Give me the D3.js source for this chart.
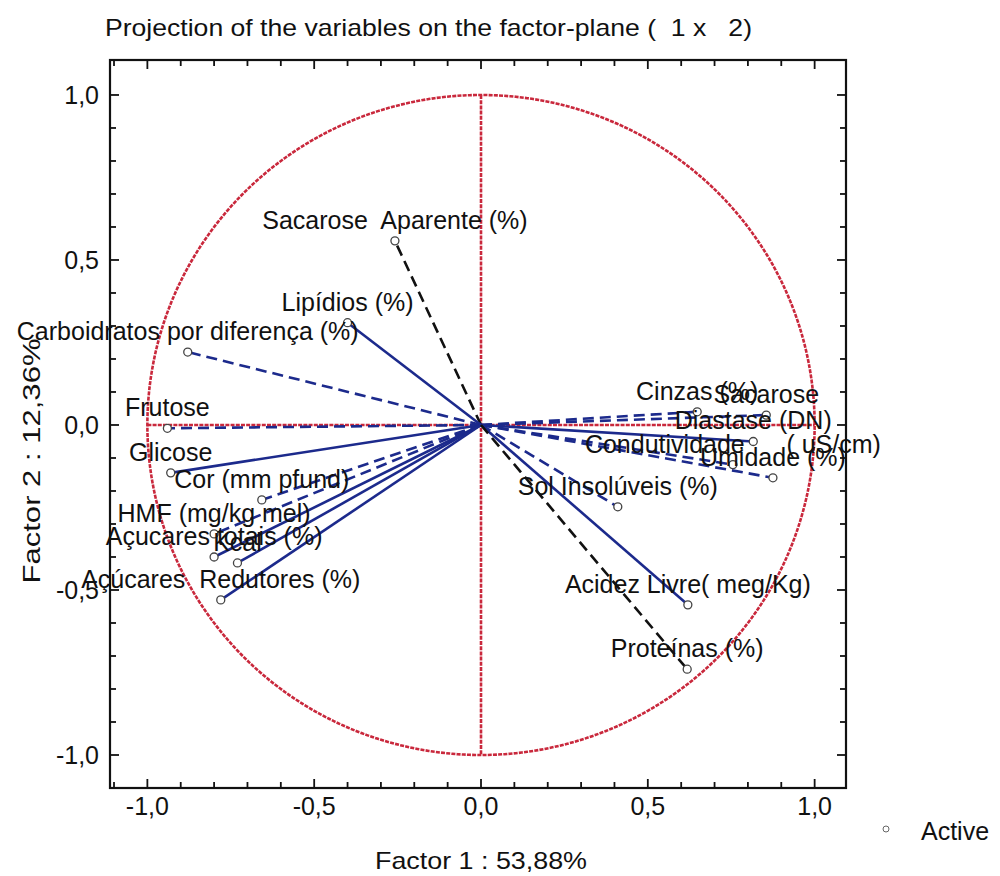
<!DOCTYPE html>
<html><head><meta charset="utf-8">
<script src="https://cdn.jsdelivr.net/npm/d3@7"></script>
<style>body{margin:0;background:#fff}svg{display:block}text{font-family:"Liberation Sans",Arial,sans-serif;white-space:pre}</style>
</head><body>
<script>
const variables = ["Sacarose  Aparente (%)","Lipídios (%)","Carboidratos por diferença (%)","Frutose","Glicose","Cor (mm pfund)","HMF (mg/kg mel)","Açucares totais (%)","Kcal","Açúcares  Redutores (%)","Cinzas (%)","Sacarose","Diastase (DN)","Condutividade      ( uS/cm)","Umidade (%)","Sol Insolúveis (%)","Acidez Livre( meg/Kg)","Proteínas (%)"];
const factor1 = [-0.258,-0.40,-0.879,-0.94,-0.93,-0.657,-0.80,-0.80,-0.73,-0.78,0.648,0.855,0.816,0.755,0.875,0.41,0.62,0.618];
const factor2 = [0.558,0.31,0.221,-0.01,-0.145,-0.227,-0.33,-0.40,-0.418,-0.53,0.04,0.03,-0.05,-0.12,-0.16,-0.248,-0.545,-0.74];
const lineStyle = ["dashBlack","solid","dashed","dashed","solid","dashed","dashed","solid","solid","solid","dashed","dashed","solid","dashed","dashed","dashed","solid","dashBlack"];
const xTickLabels = ["-1,0","-0,5","0,0","0,5","1,0"];
const yTickLabels = ["1,0","0,5","0,0","-0,5","-1,0"];
const majorTicks = [-1,-0.5,0,0.5,1];

const W=1000,H=876;
const svg=d3.select("body").append("svg").attr("width",W).attr("height",H);
const L=110,R=846,T=60,B=788;
const x=d3.scaleLinear().domain([-1.112,1.094]).range([L,R]);
const y=d3.scaleLinear().domain([1.106,-1.1]).range([T,B]);
const red="#c9283c", navy="#1c2a8c";

// title
svg.append("text").attr("x",105).attr("y",36).attr("font-size",24).attr("fill","#111")
  .attr("textLength",647).attr("lengthAdjust","spacingAndGlyphs")
  .text("Projection of the variables on the factor-plane (  1 x   2)");

// unit circle
const circ=d3.range(0,361,1).map(a=>[x(Math.cos(a*Math.PI/180)),y(Math.sin(a*Math.PI/180))]);
const redDash="4,1.2";
svg.append("path").attr("d",d3.line()(circ)).attr("fill","none").attr("stroke",red)
  .attr("stroke-width",2.6).attr("stroke-dasharray",redDash);
svg.append("line").attr("x1",x(0)).attr("x2",x(0)).attr("y1",y(1)).attr("y2",y(-1)).attr("stroke",red).attr("stroke-width",2.6).attr("stroke-dasharray",redDash);
svg.append("line").attr("x1",x(-1)).attr("x2",x(1)).attr("y1",y(0)).attr("y2",y(0)).attr("stroke",red).attr("stroke-width",2.6).attr("stroke-dasharray",redDash);

// vectors
const data=variables.map((n,i)=>({n,f1:factor1[i],f2:factor2[i],s:lineStyle[i]}));
svg.append("g").selectAll("line").data(data).join("line")
  .attr("x1",x(0)).attr("y1",y(0)).attr("x2",d=>x(d.f1)).attr("y2",d=>y(d.f2))
  .attr("stroke",d=>d.s==="dashBlack"?"#111":navy).attr("stroke-width",2.6)
  .attr("stroke-dasharray",d=>d.s==="solid"?null:"11,6");
svg.append("g").selectAll("circle").data(data).join("circle")
  .attr("cx",d=>x(d.f1)).attr("cy",d=>y(d.f2)).attr("r",4)
  .attr("fill","#fff").attr("stroke","#444").attr("stroke-width",1.3);
svg.append("g").selectAll("text").data(data).join("text")
  .attr("x",d=>x(d.f1)).attr("y",d=>y(d.f2)-12).attr("text-anchor","middle")
  .attr("font-size",25).attr("fill","#111").text(d=>d.n);

// frame
svg.append("rect").attr("x",L).attr("y",T).attr("width",R-L).attr("height",B-T)
  .attr("fill","none").attr("stroke","#111").attr("stroke-width",2.2);
const minor=d3.range(-11,11).map(v=>v/10).filter(v=>v>=-1.1&&v<=1.09);
const tk=svg.append("g").attr("stroke","#111").attr("stroke-width",1.8);
minor.forEach(v=>{
  const big=majorTicks.some(m=>Math.abs(m-v)<1e-6);
  const len=big?9:6;
  tk.append("line").attr("x1",x(v)).attr("x2",x(v)).attr("y1",B).attr("y2",B-len);
  tk.append("line").attr("x1",x(v)).attr("x2",x(v)).attr("y1",T).attr("y2",T+len);
  tk.append("line").attr("y1",y(v)).attr("y2",y(v)).attr("x1",L).attr("x2",L+len);
  tk.append("line").attr("y1",y(v)).attr("y2",y(v)).attr("x1",R).attr("x2",R-len);
});
majorTicks.forEach((v,i)=>{
  svg.append("text").attr("x",x(v)).attr("y",B+27).attr("text-anchor","middle").attr("font-size",25).attr("fill","#111").text(xTickLabels[i]);
  svg.append("text").attr("x",L-11).attr("y",y(-v)+9).attr("text-anchor","end").attr("font-size",25).attr("fill","#111").text(yTickLabels[i]);
});
// axis titles
svg.append("text").attr("x",x(0)).attr("y",869).attr("text-anchor","middle").attr("font-size",24).attr("fill","#111")
  .attr("textLength",212).attr("lengthAdjust","spacingAndGlyphs").text("Factor 1 : 53,88%");
svg.append("text").attr("transform",`translate(40,461) rotate(-90)`).attr("text-anchor","middle").attr("font-size",24).attr("fill","#111")
  .attr("textLength",245).attr("lengthAdjust","spacingAndGlyphs").text("Factor 2 : 12,36%");
// legend
svg.append("circle").attr("cx",886).attr("cy",829).attr("r",3).attr("fill","none").attr("stroke","#666").attr("stroke-width",1);
svg.append("text").attr("x",921).attr("y",840).attr("font-size",25).attr("fill","#111").text("Active");
</script>
</body></html>
